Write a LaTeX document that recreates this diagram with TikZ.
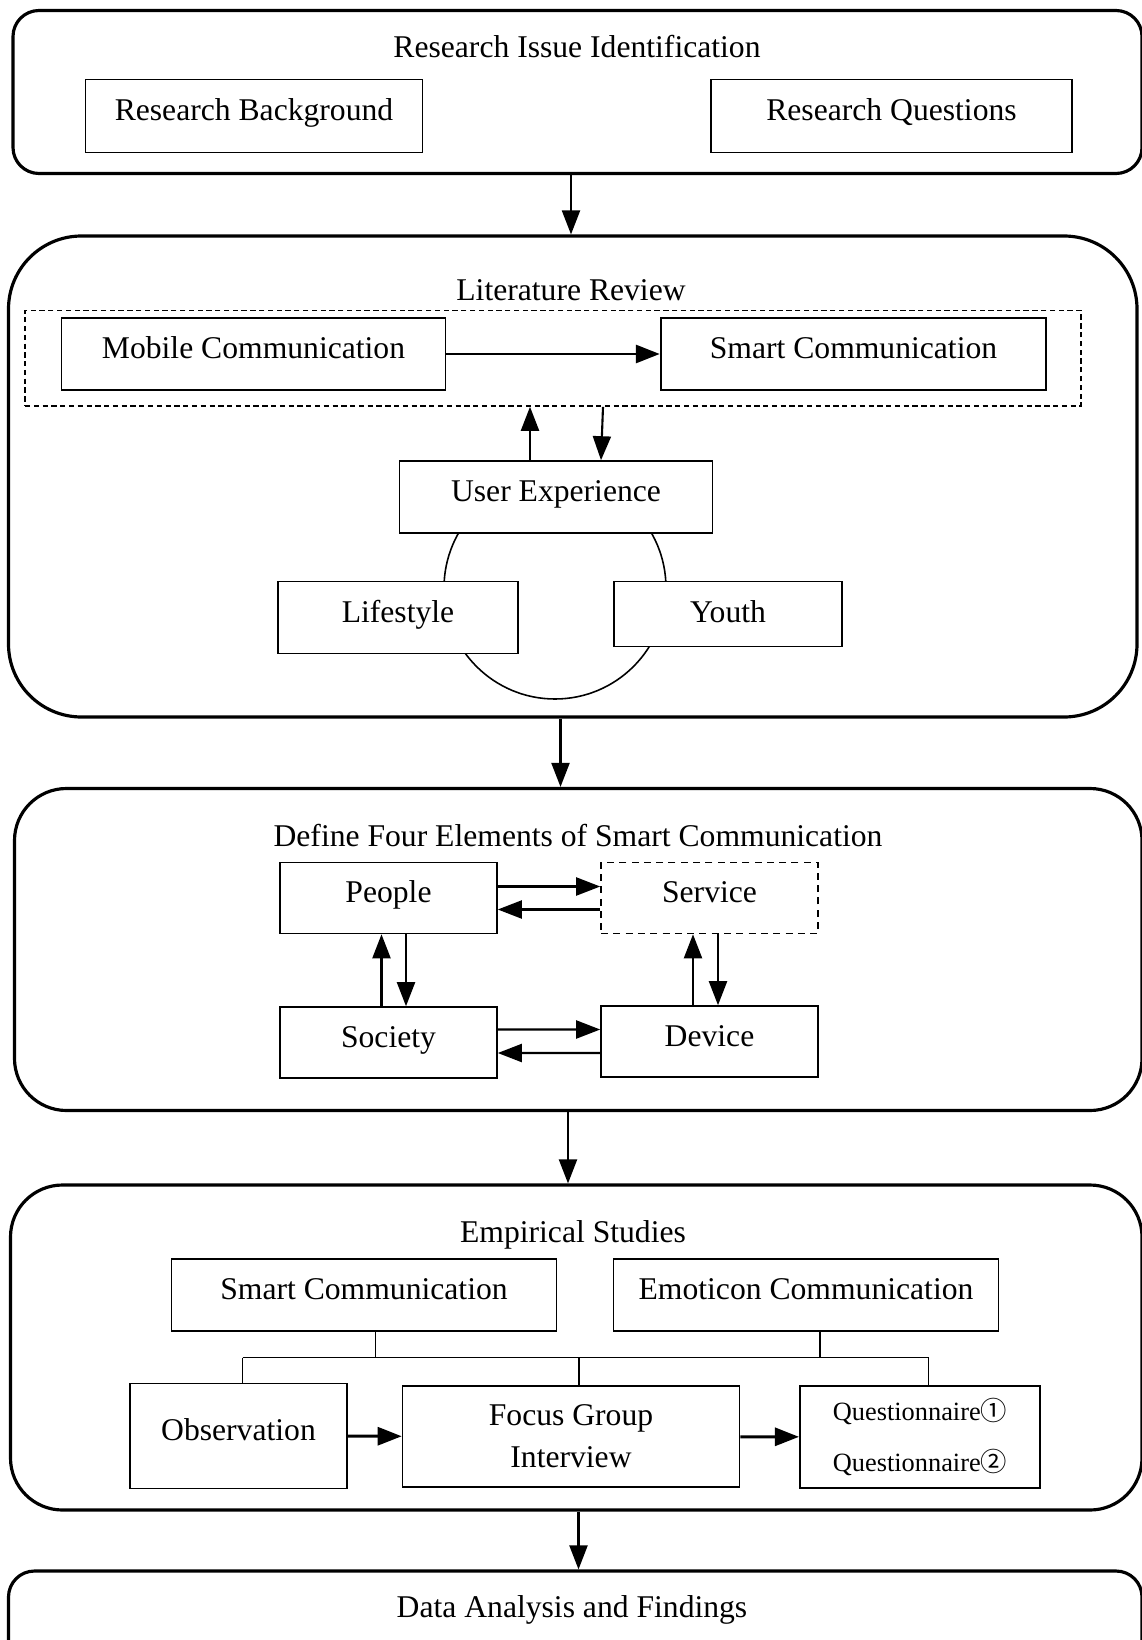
\documentclass[tikz,border=0pt]{standalone}
\usepackage{fontspec}
\setmainfont{Liberation Serif}
\newfontfamily\circfont{Noto Sans CJK SC}
\usetikzlibrary{arrows.meta}
\tikzset{>=latex}
\tikzstyle{stage}=[draw,line width=1.8pt,fill=white,inner sep=0pt]
\tikzstyle{box}=[draw,line width=0.9pt,fill=white,inner sep=0pt]
\tikzstyle{oneline}=[text height=0.44cm,text depth=0.26cm]
\tikzstyle{flow}=[-{Triangle[length=0.48cm,width=0.36cm]},line width=1.2pt]
\tikzstyle{flow thick}=[flow,line width=1.7pt]
\tikzstyle{bus}=[line width=0.9pt]
\def\bigfont{\fontsize{18}{22}\selectfont}
\def\smallfont{\fontsize{15}{29}\selectfont}

\begin{document}
\begin{tikzpicture}[font=\bigfont]
  \useasboundingbox (0,0) rectangle (22.82,-32.8);

  % STAGES
  \node[stage,rounded corners=0.52cm,minimum width=22.58cm,minimum height=3.26cm] (issue) at (11.55,-1.84) {};
  \node[stage,rounded corners=1.46cm,minimum width=22.57cm,minimum height=9.62cm] (review) at (11.455,-9.53) {};
  \node[stage,rounded corners=1.04cm,minimum width=22.55cm,minimum height=6.44cm] (elements) at (11.565,-18.99) {};
  \node[stage,rounded corners=1.04cm,minimum width=22.63cm,minimum height=6.50cm] (studies) at (11.525,-26.95) {};
  \node[stage,rounded corners=0.52cm,minimum width=22.67cm,minimum height=2.60cm] (analysis) at (11.505,-32.72) {};

  % TITLES
  \node (issuetitle)    at (11.54,-0.94)  {Research Issue Identification};
  \node (reviewtitle)   at (11.42,-5.80)  {Literature Review};
  \node (elementstitle) at (11.56,-16.71) {Define Four Elements of Smart Communication};
  \node (studiestitle)  at (11.46,-24.70) {Empirical Studies};
  \node (analysistitle) at (11.44,-32.20) {Data Analysis and Findings};

  % RESEARCH ISSUE
  \node[box,oneline,minimum width=6.74cm,minimum height=1.46cm] (background) at (5.08,-2.32) {Research Background};
  \node[box,oneline,minimum width=7.22cm,minimum height=1.46cm] (questions) at (17.83,-2.32) {Research Questions};

  % LITERATURE REVIEW
  \node[draw,circle,line width=0.9pt,minimum size=4.44cm,inner sep=0pt] (ring) at (11.1,-11.76) {};
  \node[draw,line width=0.9pt,dash pattern=on 3pt off 2pt,minimum width=21.12cm,minimum height=1.91cm] (frame) at (11.06,-7.165) {};
  \node[box,oneline,minimum width=7.68cm,minimum height=1.44cm] (mobile) at (5.07,-7.08) {Mobile Communication};
  \node[box,oneline,line width=1.4pt,minimum width=7.70cm,minimum height=1.44cm] (smart) at (17.07,-7.08) {Smart Communication};
  \node[box,oneline,minimum width=6.26cm,minimum height=1.44cm] (ux) at (11.12,-9.94) {User Experience};
  \node[box,oneline,minimum width=4.81cm,minimum height=1.44cm] (lifestyle) at (7.96,-12.35) {Lifestyle};
  \node[box,text height=0.44cm,text depth=0.09cm,minimum width=4.56cm,minimum height=1.30cm] (youth) at (14.56,-12.28) {Youth};

  \draw[flow thick] (mobile) -- (smart);
  \draw[flow] (ux.north -| 10.60,0) -- (frame.south -| 10.60,0);
  \draw[flow] (frame.south -| 12.06,0) -- (ux.north -| 12.02,0);

  % FOUR ELEMENTS
  \node[box,oneline,minimum width=4.34cm,minimum height=1.42cm] (people) at (7.77,-17.96) {People};
  \node[box,oneline,dash pattern=on 4pt off 3pt,minimum width=4.34cm,minimum height=1.42cm] (service) at (14.19,-17.96) {Service};
  \node[box,oneline,minimum width=4.34cm,minimum height=1.42cm] (society) at (7.77,-20.85) {Society};
  \node[box,oneline,minimum width=4.34cm,minimum height=1.42cm] (device) at (14.19,-20.83) {Device};

  \draw[flow] ([yshift=0.23cm]people.east) -- ([yshift=0.23cm]service.west);
  \draw[flow] ([yshift=-0.23cm]service.west) -- ([yshift=-0.23cm]people.east);
  \draw[flow] ([yshift=0.26cm]society.east) -- ([yshift=0.24cm]device.west);
  \draw[flow] ([yshift=-0.23cm]device.west) -- ([yshift=-0.21cm]society.east);
  \draw[flow] ([xshift=-0.14cm]society.north) -- ([xshift=-0.14cm]people.south);
  \draw[flow] ([xshift=0.35cm]people.south) -- ([xshift=0.35cm]society.north);
  \draw[flow] ([xshift=-0.33cm]device.north) -- ([xshift=-0.33cm]service.south);
  \draw[flow] ([xshift=0.17cm]service.south) -- ([xshift=0.17cm]device.north);

  % EMPIRICAL STUDIES
  \node[box,oneline,minimum width=7.70cm,minimum height=1.44cm] (smarttwo) at (7.28,-25.90) {Smart Communication};
  \node[box,oneline,minimum width=7.70cm,minimum height=1.44cm] (emoticon) at (16.12,-25.90) {Emoticon Communication};
  \node[box,oneline,minimum width=4.34cm,minimum height=2.10cm] (observation) at (4.77,-28.72) {Observation};
  \node[box,align=center,minimum width=6.74cm,minimum height=2.02cm,
        font=\fontsize{18}{24}\selectfont] (focus) at (11.42,-28.73) {Focus Group\\Interview};
  \node[box,align=center,minimum width=4.81cm,minimum height=2.04cm,
        font=\smallfont] (quest) at (18.40,-28.74)
    {Questionnaire{\circfont ①}\\Questionnaire{\circfont ②}};

  \coordinate (busL) at (4.85,-27.15);
  \coordinate (busR) at (18.57,-27.15);
  \draw[bus] (busL) -- (busR);
  \draw[bus] (smarttwo.south -| 7.51,0) -- (busL -| 7.51,0);
  \draw[bus] (emoticon.south -| 16.40,0) -- (busL -| 16.40,0);
  \draw[bus] (busL) -- (observation.north -| busL);
  \draw[bus] (busL -| 11.58,0) -- (focus.north -| 11.58,0);
  \draw[bus] (busR) -- (quest.north -| busR);

  \draw[flow thick] (observation) -- (focus);
  \draw[flow thick] (focus) -- (quest);

  % STAGE ARROWS
  \draw[flow] (issue.south -| 11.42,0) -- (review.north -| 11.42,0);
  \draw[flow] (review.south -| 11.21,0) -- (elements.north -| 11.21,0);
  \draw[flow] (elements.south -| 11.36,0) -- (studies.north -| 11.36,0);
  \draw[flow] (studies.south -| 11.57,0) -- (analysis.north -| 11.57,0);

\end{tikzpicture}
\end{document}
